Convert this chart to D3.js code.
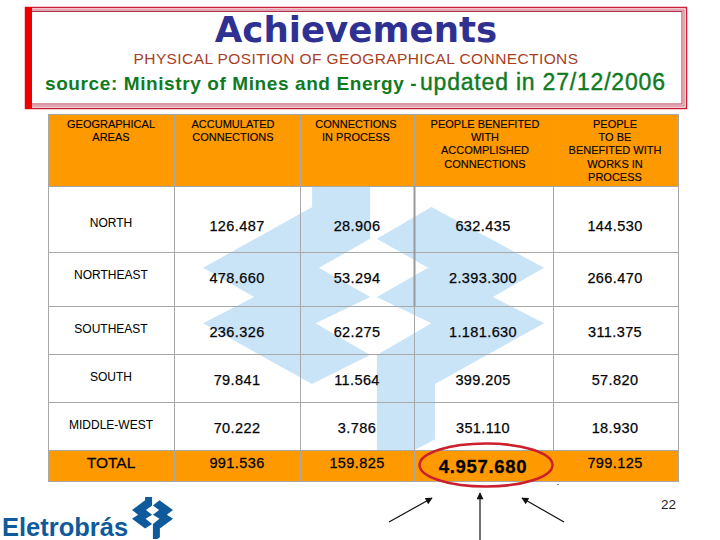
<!DOCTYPE html>
<html>
<head>
<meta charset="utf-8">
<script src="https://cdn.jsdelivr.net/npm/d3@7"></script>
<style>
  html, body { margin: 0; padding: 0; background: #fff; }
  svg { display: block; }
  text { font-family: "Liberation Sans", sans-serif; }
</style>
</head>
<body>
<div id="chart"></div>
<script>
var headers = [
  ["GEOGRAPHICAL", "AREAS"],
  ["ACCUMULATED", "CONNECTIONS"],
  ["CONNECTIONS", "IN PROCESS"],
  ["PEOPLE BENEFITED", "WITH", "ACCOMPLISHED", "CONNECTIONS"],
  ["PEOPLE", "TO BE", "BENEFITED WITH", "WORKS IN", "PROCESS"]
];
var areas = ["NORTH", "NORTHEAST", "SOUTHEAST", "SOUTH", "MIDDLE-WEST", "TOTAL"];
var accumulated = ["126.487", "478.660", "236.326", "79.841", "70.222", "991.536"];
var inProcess = ["28.906", "53.294", "62.275", "11.564", "3.786", "159.825"];
var benefited = ["632.435", "2.393.300", "1.181.630", "399.205", "351.110", "4.957.680"];
var toBenefit = ["144.530", "266.470", "311.375", "57.820", "18.930", "799.125"];

var columns = [areas, accumulated, inProcess, benefited, toBenefit];
var colEdges = [48, 174, 300, 414, 553, 678];
var rowEdges = [186, 252, 306, 354, 402, 450, 481];
var headerTop = 114;
// text baselines of each row
var labelBase = [227, 279, 333, 381, 429, 468];
var valueBase = [231, 283, 337, 385, 433, 468];

var svg = d3.select("#chart").append("svg").attr("width", 720).attr("height", 540);

// title box
svg.append("rect").attr("x", 25.5).attr("y", 7.5).attr("width", 661).attr("height", 101)
  .attr("fill", "#fff").attr("stroke", "#c8203c").attr("stroke-width", 1.5);
svg.append("rect").attr("x", 28).attr("y", 10).attr("width", 656).attr("height", 96)
  .attr("fill", "none").attr("stroke", "#c8506a").attr("stroke-width", 1);
svg.append("rect").attr("x", 30).attr("y", 11.5).attr("width", 652).attr("height", 92.5)
  .attr("fill", "none").attr("stroke", "#b03048").attr("stroke-width", 1);
svg.append("rect").attr("x", 25).attr("y", 7).attr("width", 7).attr("height", 102).attr("fill", "#f00000");

svg.append("text").attr("x", 356).attr("y", 41.5).attr("text-anchor", "middle")
  .style("font-family", "'DejaVu Sans'").style("font-weight", "bold").style("font-size", "35.6px")
  .attr("fill", "#2e3192").text("Achievements");
svg.append("text").attr("x", 356).attr("y", 63.5).attr("text-anchor", "middle")
  .style("font-size", "15.5px").style("letter-spacing", "0.4px").attr("fill", "#a8401f")
  .text("PHYSICAL POSITION OF GEOGRAPHICAL CONNECTIONS");
svg.append("text").attr("x", 45).attr("y", 90)
  .style("font-size", "19px").style("font-weight", "bold").style("letter-spacing", "0.6px").attr("fill", "#0f7a1e")
  .text("source: Ministry of Mines and Energy -");
svg.append("text").attr("x", 420).attr("y", 90)
  .style("font-size", "23px").attr("fill", "#0f7a1e").attr("stroke", "#0f7a1e").attr("stroke-width", 0.4)
  .style("letter-spacing", "0.8px").text("updated in 27/12/2006");

// logo shape, used for the watermark and for the small logo
var logoLeft = [[0.32, 0], [0.32, 0.08], [0, 0.31], [0.15, 0.42], [0, 0.52], [0.32, 0.75], [0.49, 0.64], [0.33, 0.52], [0.49, 0.42], [0.34, 0.31], [0.49, 0.2], [0.49, 0]];
var logoRight = [[0.51, 1], [0.51, 0.64], [0.67, 0.52], [0.51, 0.42], [0.66, 0.31], [0.51, 0.2], [0.67, 0.08], [1, 0.31], [0.85, 0.42], [1, 0.52], [0.68, 0.75], [0.68, 0.96], [0.62, 1]];

function drawLogo(x0, x1, y0, y1, color) {
  var lx = d3.scaleLinear().domain([0, 1]).range([x0, x1]);
  var ly = d3.scaleLinear().domain([0, 1]).range([y0, y1]);
  var line = d3.line().x(d => lx(d[0])).y(d => ly(d[1])).curve(d3.curveLinearClosed);
  svg.selectAll(null).data([logoLeft, logoRight]).enter().append("path")
    .attr("d", line).attr("fill", color);
}

// table
var header = svg.append("g");
header.selectAll("rect").data(headers).enter().append("rect")
  .attr("x", (d, i) => colEdges[i] + 0.5).attr("y", headerTop + 0.5)
  .attr("width", (d, i) => colEdges[i + 1] - colEdges[i]).attr("height", rowEdges[0] - headerTop)
  .attr("fill", "#ff9900").attr("stroke", "#a8a8a8");

drawLogo(203, 544, 186, 450, "#c9e3f7");

var rows = svg.append("g");
d3.range(6).forEach(function (r) {
  d3.range(5).forEach(function (c) {
    rows.append("rect")
      .attr("x", colEdges[c] + 0.5).attr("y", rowEdges[r] + 0.5)
      .attr("width", colEdges[c + 1] - colEdges[c]).attr("height", rowEdges[r + 1] - rowEdges[r])
      .attr("fill", r == 5 ? "#ff9900" : "none").attr("stroke", "#a8a8a8");
  });
});
// darker piece of the grid line
svg.append("line").attr("x1", colEdges[3] + 0.5).attr("x2", colEdges[3] + 0.5).attr("y1", rowEdges[0]).attr("y2", rowEdges[2])
  .attr("stroke", "#999").attr("stroke-width", 2);

// header labels
var headerCentres = [111, 233, 356, 485, 615];
headers.forEach(function (lines, c) {
  svg.selectAll(null).data(lines).enter().append("text")
    .attr("x", headerCentres[c]).attr("y", (d, i) => 128 + i * 13.2)
    .attr("text-anchor", "middle").style("font-size", "11px")
    .attr("stroke", "#111").attr("stroke-width", 0.15).text(d => d);
});

// cells
var cellCentres = [111, 237, 357, 483, 615];
columns.forEach(function (col, c) {
  svg.selectAll(null).data(col).enter().append("text")
    .attr("x", cellCentres[c])
    .attr("y", (d, r) => (c == 0 ? labelBase[r] : valueBase[r]) + (r == 5 && c == 3 ? 4.5 : 0))
    .attr("text-anchor", "middle")
    .style("font-size", function (d, r) {
      if (c == 0) return r == 5 ? "15.5px" : "12px";
      if (r == 5 && c == 3) return "18.5px";
      return "14.5px";
    })
    .style("font-weight", (d, r) => (r == 5 && c == 3 ? "bold" : "normal"))
    .style("letter-spacing", (d, r) => (c == 0 ? "0" : r == 5 && c == 3 ? "0.7px" : "0.4px"))
    .attr("stroke", "#111").attr("stroke-width", (d, r) => (c == 0 && r < 5 ? 0.05 : r == 5 ? 0.3 : 0.25))
    .text(d => d);
});

// highlight around the total
svg.append("ellipse").attr("cx", 486).attr("cy", 465).attr("rx", 66.5).attr("ry", 21.5)
  .attr("fill", "none").attr("stroke", "#cc1f2b").attr("stroke-width", 2.5);
svg.append("rect").attr("x", 557).attr("y", 484).attr("width", 2).attr("height", 1).attr("fill", "#888");

// arrows
svg.append("defs").append("marker").attr("id", "head")
  .attr("viewBox", "0 0 10 10").attr("refX", 9).attr("refY", 5)
  .attr("markerWidth", 9).attr("markerHeight", 7).attr("markerUnits", "userSpaceOnUse").attr("orient", "auto")
  .append("path").attr("d", "M0,0L10,5L0,10z").attr("fill", "#111");
var arrows = [[389, 522, 432, 498], [480, 540, 480, 493], [564, 522, 522, 498]];
svg.selectAll(null).data(arrows).enter().append("line")
  .attr("x1", d => d[0]).attr("y1", d => d[1]).attr("x2", d => d[2]).attr("y2", d => d[3])
  .attr("stroke", "#111").attr("stroke-width", 1.2).attr("marker-end", "url(#head)");

svg.append("text").attr("x", 661).attr("y", 509).style("font-size", "13.5px").attr("fill", "#222").text("22");

// logo
svg.append("text").attr("x", 2).attr("y", 535.5).style("font-size", "25.5px").style("font-weight", "bold")
  .attr("fill", "#0f5a9a").text("Eletrobrás");
drawLogo(132, 173, 497, 539, "#0f5a9a");
</script>
</body>
</html>
